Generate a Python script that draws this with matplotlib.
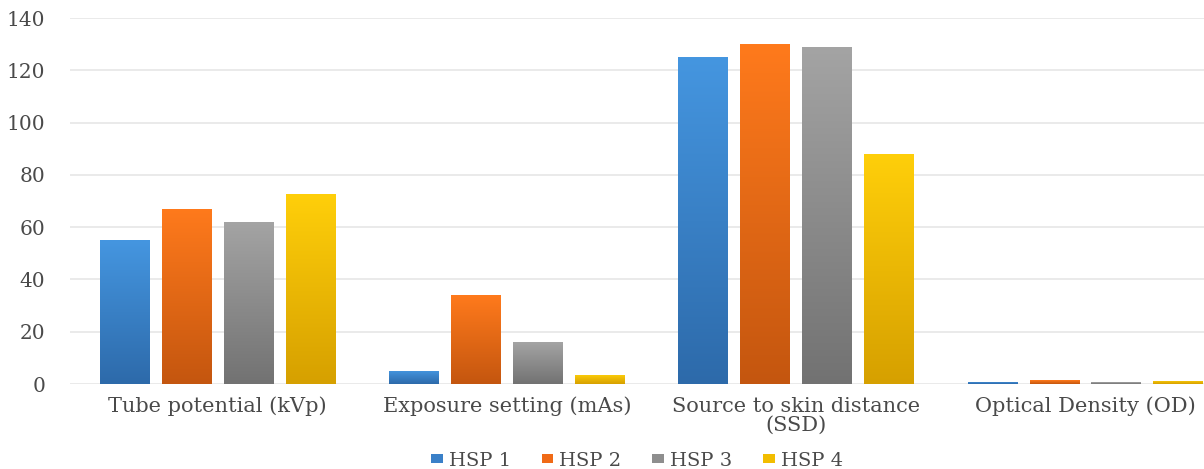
import numpy as np
import matplotlib
matplotlib.use("Agg")
from matplotlib import pyplot as plt
from matplotlib.colors import LinearSegmentedColormap
from matplotlib.patches import Patch

plt.rcParams['font.family'] = ['DejaVu Serif', 'Liberation Serif']

# parameters measured at each hospital
categories = ["Tube potential (kVp)", "Exposure setting (mAs)",
              "Source to skin distance\n(SSD)", "Optical Density (OD)"]
series_names = ["HSP 1", "HSP 2", "HSP 3", "HSP 4"]
hsp1 = [55, 5, 125, 0.8]
hsp2 = [67, 34, 130, 1.4]
hsp3 = [62, 16, 129, 0.6]
hsp4 = [72.5, 3.5, 88, 1.2]
yticks = [0, 20, 40, 60, 80, 100, 120, 140]

# (top colour, bottom colour, legend colour)
colors = [("#4596e0", "#2d6aaa", "#3a80c8"),
          ("#ff7a1c", "#c4560f", "#f06a16"),
          ("#a4a4a4", "#727272", "#8e8e8e"),
          ("#ffcf0a", "#d6a000", "#f2bd00")]
text_color = "#4a4a4a"


def gradient_bars(ax, bars, top, bottom):
    cmap = LinearSegmentedColormap.from_list("g", [bottom, top])
    grad = np.linspace(0, 1, 256).reshape(-1, 1)
    for b in bars:
        x0, y0 = b.get_x(), b.get_y()
        w, h = b.get_width(), b.get_height()
        im = ax.imshow(grad, extent=[x0, x0 + w, y0, y0 + h], origin="lower",
                       aspect="auto", cmap=cmap, zorder=3)
        im.set_clip_path(b)


fig = plt.figure(figsize=(12.04, 4.69), dpi=100)
ax = fig.add_axes([70 / 1204, 85 / 469, 1134 / 1204, 366 / 469])

x = np.arange(len(categories))
step = 0.214
width = 0.172
data = [hsp1, hsp2, hsp3, hsp4]
for i, vals in enumerate(data):
    pos = x + (i - 1.5) * step
    bars = ax.bar(pos, vals, width, color=colors[i][2], zorder=2)
    gradient_bars(ax, bars, colors[i][0], colors[i][1])

ax.set_xlim(-0.51, 3.41)
ax.set_ylim(0, 140)
ax.set_yticks(yticks)
ax.set_xticks(x)
ax.set_xticklabels(categories, fontsize=15, color=text_color, linespacing=1.0)
ax.tick_params(axis="y", labelsize=14.5, labelcolor=text_color, length=0, pad=18)
ax.tick_params(axis="x", length=0, pad=9)
ax.grid(axis="y", color="#e6e6e6", linewidth=1.2, zorder=0)
ax.set_axisbelow(True)
for s in ax.spines.values():
    s.set_visible(False)

handles = [Patch(facecolor=c[2], label=n) for c, n in zip(colors, series_names)]
ax.legend(handles=handles, loc="center", bbox_to_anchor=(0.5, -0.21), ncol=4,
          frameon=False, fontsize=14, handlelength=0.6, handleheight=0.35,
          handletextpad=0.3, columnspacing=1.6, labelcolor=text_color)

fig.savefig("out.png", dpi=100)
